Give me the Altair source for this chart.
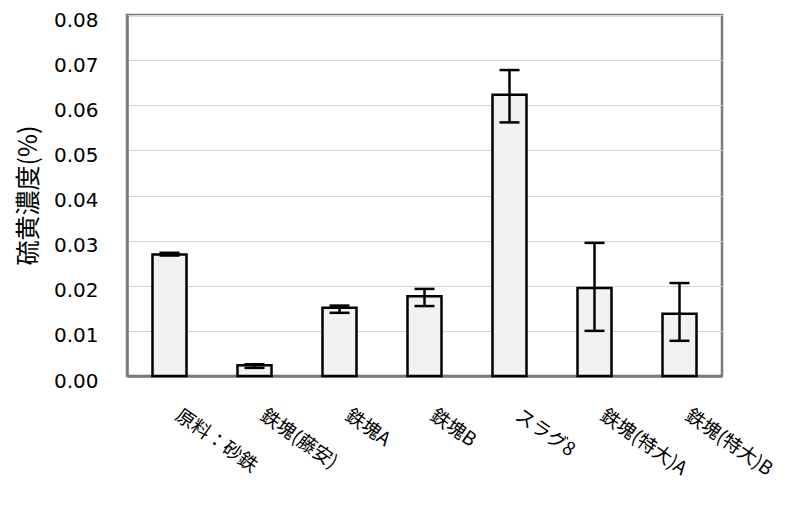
import altair as alt
import pandas as pd

categories = ["原料：砂鉄", "鉄塊(藤安)", "鉄塊A", "鉄塊B", "スラグ8", "鉄塊(特大)A", "鉄塊(特大)B"]
values = [0.0269, 0.0024, 0.0151, 0.0177, 0.0623, 0.0195, 0.0138]
err_low = [0.0267, 0.0018, 0.0140, 0.0155, 0.0562, 0.0100, 0.0078]
err_high = [0.0273, 0.0026, 0.0156, 0.0193, 0.0678, 0.0295, 0.0206]
y_ticks = [0.0, 0.01, 0.02, 0.03, 0.04, 0.05, 0.06, 0.07, 0.08]

df = pd.DataFrame({"cat": categories, "v": values, "lo": err_low, "hi": err_high})

x_enc = alt.X("cat:N", sort=categories, title=None,
              scale=alt.Scale(paddingInner=0, paddingOuter=0),
              axis=alt.Axis(labelAngle=35, labelAlign="left", labelBaseline="middle",
                            labelPadding=37, labelFontSize=19, labelFont="Noto Sans CJK JP",
                            labelColor="black", ticks=False, domainColor="#7a7a7a",
                            domainWidth=2.5, labelOffset=8))
y_scale = alt.Scale(domain=[0, 0.08], nice=False)
y_axis = alt.Axis(values=y_ticks, format=".2f", title="硫黄濃度(%)", labelFontSize=20,
                  labelFont="DejaVu Sans", labelColor="black", labelPadding=29, ticks=False,
                  domain=True, domainColor="#7a7a7a", domainWidth=2.5,
                  grid=True, gridColor="#d4d4d4", gridWidth=1, labelOffset=5,
                  titleFont="Noto Sans CJK JP", titleFontSize=25, titleFontWeight="normal",
                  titleColor="black", titleX=-99, titleY=180, titleAngle=-90,
                  titleAlign="center", titleBaseline="middle")

base = alt.Chart(df)
bars = base.mark_bar(size=34, fill="#f2f2f2", stroke="black", strokeWidth=2.5).encode(
    x=x_enc, y=alt.Y("v:Q", scale=y_scale, axis=y_axis))
rule = base.mark_rule(color="black", strokeWidth=2.5).encode(
    x=alt.X("cat:N", sort=categories), y=alt.Y("lo:Q", scale=y_scale), y2="hi:Q")
cap_lo = base.mark_tick(color="black", size=20, thickness=2.5, opacity=1).encode(
    x=alt.X("cat:N", sort=categories), y=alt.Y("lo:Q", scale=y_scale))
cap_hi = base.mark_tick(color="black", size=20, thickness=2.5, opacity=1).encode(
    x=alt.X("cat:N", sort=categories), y=alt.Y("hi:Q", scale=y_scale))

chart = alt.layer(bars, rule, cap_lo, cap_hi).properties(
    width=595, height=361,
    autosize=alt.AutoSizeParams(type="none"),
    padding={"left": 119, "top": 7, "right": 70, "bottom": 121},
    view=alt.ViewBackground(stroke="#7a7a7a", strokeWidth=2.5),
).configure(background="white")

chart.save("out.html", embed_options={"renderer": "svg", "actions": False})
